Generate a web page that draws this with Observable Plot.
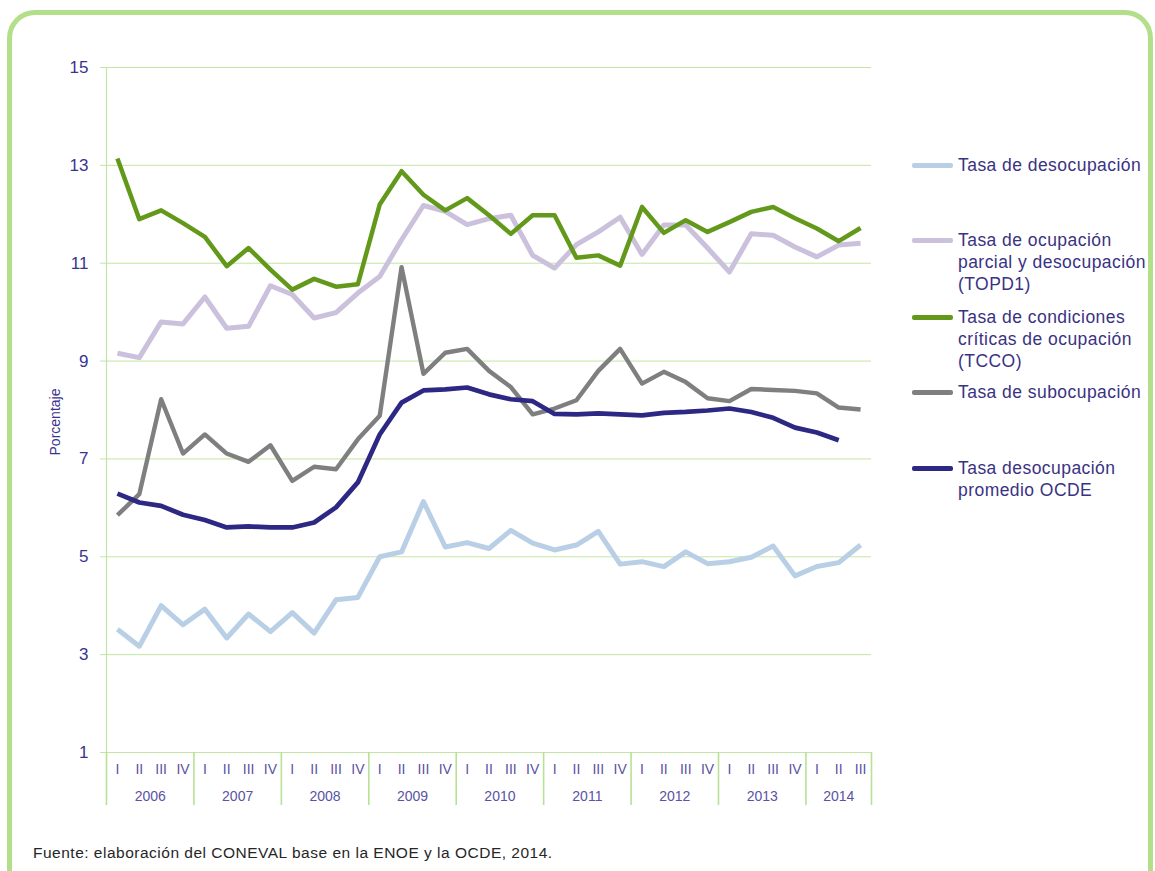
<!DOCTYPE html>
<html>
<head>
<meta charset="utf-8">
<script src="https://cdn.jsdelivr.net/npm/d3@7"></script>
<script src="https://cdn.jsdelivr.net/npm/@observablehq/plot@0.6"></script>
<style>
  html, body { margin: 0; padding: 0; background: #fff; overflow: hidden; }
  body { width: 1155px; height: 871px; position: relative; font-family: "Liberation Sans", Arial, sans-serif; }
  #frame { position: absolute; left: 7px; top: 10px; width: 1136px; height: 940px; border: 5px solid #b3de8a; border-radius: 28px; box-sizing: content-box; }
  #chart { position: absolute; left: 0; top: 0; }
  #ylabel { position: absolute; left: 55px; top: 422px; transform: translate(-50%, -50%) rotate(-90deg); font-size: 14px; color: #3a3290; white-space: nowrap; }
  .leg { position: absolute; left: 912px; }
  .leg .sw { position: absolute; left: 0; top: 9px; width: 41px; height: 4.5px; border-radius: 2px; }
  .leg .tx { position: absolute; left: 46px; top: 0; font-size: 17.5px; letter-spacing: 0.45px; line-height: 22px; color: #3a3282; white-space: nowrap; }
  #caption { position: absolute; left: 33px; top: 844px; font-size: 15.5px; letter-spacing: 0.5px; color: #262626; white-space: nowrap; }
</style>
</head>
<body>
<div id="frame"></div>
<div id="chart"></div>
<div id="ylabel">Porcentaje</div>
<div id="legend"></div>
<div id="caption">Fuente: elaboración del CONEVAL base en la ENOE y la OCDE, 2014.</div>
<script>
// ---- Data ----
const years = ["2006","2007","2008","2009","2010","2011","2012","2013","2014"];
const quartersPerYear = [4,4,4,4,4,4,4,4,3];
const quarterNames = ["I","II","III","IV"];
const yTicks = [1,3,5,7,9,11,13,15];

const desocupacion = [3.52,3.17,4.00,3.61,3.93,3.34,3.83,3.47,3.86,3.44,4.12,4.17,5.00,5.10,6.13,5.20,5.29,5.17,5.54,5.28,5.14,5.24,5.52,4.85,4.90,4.80,5.10,4.86,4.90,4.99,5.22,4.61,4.80,4.88,5.24];
const topd1 = [9.16,9.07,9.80,9.76,10.31,9.67,9.71,10.54,10.36,9.88,9.99,10.39,10.73,11.48,12.18,12.06,11.79,11.91,11.98,11.16,10.90,11.38,11.64,11.94,11.18,11.78,11.78,11.31,10.82,11.60,11.57,11.33,11.13,11.37,11.41];
const tcco = [13.14,11.90,12.08,11.82,11.54,10.94,11.31,10.87,10.46,10.68,10.52,10.57,12.20,12.88,12.40,12.08,12.33,11.98,11.60,11.98,11.98,11.11,11.16,10.95,12.15,11.62,11.88,11.64,11.84,12.05,12.15,11.92,11.71,11.45,11.72];
const subocupacion = [5.85,6.28,8.22,7.11,7.50,7.11,6.94,7.28,6.55,6.84,6.79,7.40,7.88,10.92,8.74,9.17,9.25,8.80,8.47,7.91,8.03,8.20,8.80,9.25,8.54,8.78,8.57,8.24,8.18,8.43,8.41,8.39,8.34,8.05,8.01];
const ocde = [6.29,6.11,6.04,5.86,5.75,5.60,5.62,5.60,5.60,5.70,6.01,6.52,7.50,8.15,8.40,8.42,8.46,8.32,8.22,8.18,7.92,7.91,7.93,7.91,7.89,7.94,7.96,7.99,8.03,7.96,7.84,7.64,7.54,7.38];

const seriesNames = [
  "Tasa de desocupación",
  "Tasa de ocupación parcial y desocupación (TOPD1)",
  "Tasa de condiciones críticas de ocupación (TCCO)",
  "Tasa de subocupación",
  "Tasa desocupación promedio OCDE"
];
const legendLines = [
  ["Tasa de desocupación"],
  ["Tasa de ocupación", "parcial y desocupación", "(TOPD1)"],
  ["Tasa de condiciones", "críticas de ocupación", "(TCCO)"],
  ["Tasa de subocupación"],
  ["Tasa desocupación", "promedio OCDE"]
];
const seriesValues = [desocupacion, topd1, tcco, subocupacion, ocde];
const seriesColors = ["#b9cfe6", "#cbc1dc", "#63991b", "#7f7f7f", "#2d2883"];
const seriesWidths = [5, 5, 4.5, 4.4, 4.7];

// ---- Derived ----
const quarterLabels = [];
years.forEach((y, k) => { for (let q = 0; q < quartersPerYear[k]; q++) quarterLabels.push(quarterNames[q]); });
const nQ = quarterLabels.length;
const yearStarts = [];
let acc = 0;
quartersPerYear.forEach(n => { yearStarts.push(acc); acc += n; });
const yearCenters = yearStarts.map((s, k) => s + quartersPerYear[k] / 2);
const yearBounds = [...yearStarts, nQ];

const gridColor = "#c2e6a2";
const sepColor = "#b8e194";

const lineMarks = seriesValues.map((vals, s) =>
  Plot.lineY(vals, {
    x: (d, i) => i + 0.5,
    y: d => d,
    stroke: seriesColors[s],
    strokeWidth: seriesWidths[s],
    strokeLinejoin: "round",
    strokeLinecap: "butt"
  })
);

const chart = Plot.plot({
  width: 1155,
  height: 871,
  marginLeft: 106,
  marginRight: 284,
  marginTop: 67,
  marginBottom: 119,
  style: { fontFamily: "'Liberation Sans', Arial, sans-serif", background: "transparent" },
  x: { domain: [0, nQ] },
  y: { domain: [1, 15] },
  marks: [
    Plot.gridY({ ticks: yTicks, stroke: gridColor, strokeOpacity: 1 }),
    Plot.ruleX([0], { stroke: gridColor, strokeWidth: 1.2 }),
    Plot.axisY({ ticks: yTicks, tickSize: 6, tickPadding: 12, stroke: gridColor, fill: "#3a3490", fontSize: 17, label: null }),
    Plot.axisX({ ticks: yearBounds, tickSize: 53, tickFormat: () => "", stroke: sepColor, strokeWidth: 1.6, label: null }),
    Plot.axisX({ ticks: d3.range(nQ).map(i => i + 0.5), tickSize: 0, tickPadding: 12, tickFormat: d => quarterLabels[Math.floor(d)], fill: "#5a52a3", fontSize: 14, label: null }),
    Plot.axisX({ ticks: yearCenters, tickSize: 0, tickPadding: 39, tickFormat: d => years[yearCenters.indexOf(d)], fill: "#5a52a3", fontSize: 14, label: null }),
    ...lineMarks
  ]
});
document.getElementById("chart").appendChild(chart);

// ---- Legend ----
const legendTops = [154, 229, 306, 381, 457];
const legend = document.getElementById("legend");
legendLines.forEach((lines, s) => {
  const item = document.createElement("div");
  item.className = "leg";
  item.style.top = legendTops[s] + "px";
  item.title = seriesNames[s];
  const sw = document.createElement("div");
  sw.className = "sw";
  sw.style.background = seriesColors[s];
  const tx = document.createElement("div");
  tx.className = "tx";
  tx.innerHTML = lines.join("<br>");
  item.appendChild(sw);
  item.appendChild(tx);
  legend.appendChild(item);
});
</script>
</body>
</html>
